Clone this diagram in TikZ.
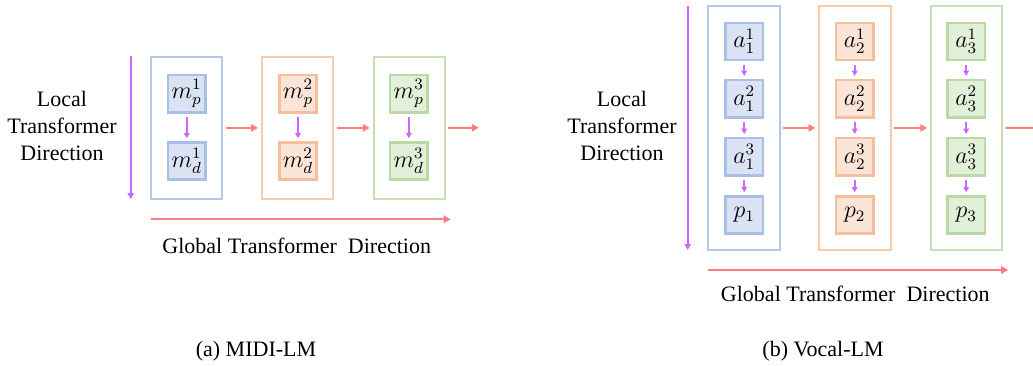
\documentclass[tikz,border=0pt]{standalone}
\usepackage{fontspec}
\setmainfont{Liberation Serif}
\newfontfamily\tnr{Liberation Serif}
\usetikzlibrary{arrows.meta}
\definecolor{bOut}{HTML}{B4C7E7}
\definecolor{bIn}{HTML}{A9BFE5}
\definecolor{bFill}{HTML}{DAE3F3}
\definecolor{oOut}{HTML}{F8CBAD}
\definecolor{oIn}{HTML}{F5BE9C}
\definecolor{oFill}{HTML}{FBE5D6}
\definecolor{gOut}{HTML}{C5E0B4}
\definecolor{gIn}{HTML}{B9D9A5}
\definecolor{gFill}{HTML}{E2F0D9}
\definecolor{purp}{HTML}{CC66FF}
\definecolor{redA}{HTML}{FF7C80}
\tikzset{
  outerbox/.style={draw=#1, line width=1pt, minimum width=35.6pt, inner sep=0pt},
  tok/.style={draw=#1, line width=1.2pt, minimum width=18.6pt, minimum height=18.6pt, inner sep=0pt, font=\fontsize{12pt}{14pt}\selectfont},
  localarr/.style={draw=purp, line width=0.8pt, -{Triangle[length=3pt,width=3.2pt]}},
  smallarr/.style={draw=purp, line width=0.8pt, -{Triangle[length=2.6pt,width=2.8pt]}, shorten <=1.7pt, shorten >=1.5pt},
  globarr/.style={draw=redA, line width=1pt, -{Triangle[length=3.6pt,width=3.8pt]}},
  linkarr/.style={draw=redA, line width=1pt, -{Triangle[length=3.4pt,width=3.6pt]}, shorten <=1.2pt, shorten >=1.5pt},
  lbl/.style={font=\tnr\fontsize{11pt}{13.4pt}\selectfont, inner sep=0pt},
}
\begin{document}
\begin{tikzpicture}[x=0.5pt,y=-0.5pt]
\useasboundingbox (0,0) rectangle (1033,365);
% ---------------- (a) MIDI-LM ----------------
\node[outerbox=bOut, minimum height=71.2pt] (A1) at (186.7,127.9) {};
\node[outerbox=oOut, minimum height=71.2pt] (A2) at (297.5,127.9) {};
\node[outerbox=gOut, minimum height=71.2pt] (A3) at (409.2,127.9) {};
\node[tok=bIn, fill=bFill] (mp1) at (186.7,93.7) {$m_p^1$};
\node[tok=bIn, fill=bFill] (md1) at (186.7,161) {$m_d^1$};
\node[tok=oIn, fill=oFill] (mp2) at (298,93.7) {$m_p^2$};
\node[tok=oIn, fill=oFill] (md2) at (298,161) {$m_d^2$};
\node[tok=gIn, fill=gFill] (mp3) at (408.8,93.7) {$m_p^3$};
\node[tok=gIn, fill=gFill] (md3) at (408.8,161) {$m_d^3$};
\draw[smallarr] (mp1) -- (md1);
\draw[smallarr] (mp2) -- (md2);
\draw[smallarr] (mp3) -- (md3);
\coordinate (Aend) at (481.7,127.7);
\draw[linkarr] (A1.east) -- (A2.west);
\draw[linkarr] (A2.east) -- (A3.west);
\draw[linkarr] (A3.east) -- (Aend);
\coordinate (AlocS) at (130.7,56);
\coordinate (AlocE) at (130.7,199);
\draw[localarr] (AlocS) -- (AlocE);
\coordinate (AglobS) at (150.7,219.3);
\coordinate (AglobE) at (450.7,219.3);
\draw[globarr] (AglobS) -- (AglobE);
\node[lbl, align=center] (Aloc) at (62,126) {Local\\Transformer\\Direction};
\node[lbl, anchor=base] (Aglob) at (296.7,253) {Global Transformer\ \ Direction};
\node[lbl, anchor=base] (Acap) at (256,356.7) {(a) MIDI-LM};
% ---------------- (b) Vocal-LM ----------------
\node[outerbox=bOut, minimum height=121.9pt] (B1) at (743.9,127.9) {};
\node[outerbox=oOut, minimum height=121.9pt] (B2) at (855,127.9) {};
\node[outerbox=gOut, minimum height=121.9pt] (B3) at (966.7,127.9) {};
\foreach \c/\col/\xx in {1/b/744.2, 2/o/854.7, 3/g/966.2}{
  \node[tok=\col In, fill=\col Fill] (a\c1) at (\xx,41.3) {$a_{\c}^1$};
  \node[tok=\col In, fill=\col Fill] (a\c2) at (\xx,98.7) {$a_{\c}^2$};
  \node[tok=\col In, fill=\col Fill] (a\c3) at (\xx,156.7) {$a_{\c}^3$};
  \node[tok=\col In, fill=\col Fill] (p\c) at (\xx,215) {$p_{\c}$};
  \draw[smallarr] (a\c1) -- (a\c2);
  \draw[smallarr] (a\c2) -- (a\c3);
  \draw[smallarr] (a\c3) -- (p\c);
}
\draw[linkarr] (B1.east) -- (B2.west);
\draw[linkarr] (B2.east) -- (B3.west);
\coordinate (Bend) at (1045,127.7);
\begin{scope}
\clip (0,0) rectangle (1033,365);
\draw[linkarr] (B3.east) -- (Bend);
\end{scope}
\coordinate (BlocS) at (687.7,6);
\coordinate (BlocE) at (687.7,250);
\draw[localarr] (BlocS) -- (BlocE);
\coordinate (BglobS) at (708.3,270);
\coordinate (BglobE) at (1008.3,270);
\draw[globarr] (BglobS) -- (BglobE);
\node[lbl, align=center] (Bloc) at (622,126) {Local\\Transformer\\Direction};
\node[lbl, anchor=base] (Bglob) at (855.3,301.7) {Global Transformer\ \ Direction};
\node[lbl, anchor=base] (Bcap) at (823,356.7) {(b) Vocal-LM};
\end{tikzpicture}
\end{document}
